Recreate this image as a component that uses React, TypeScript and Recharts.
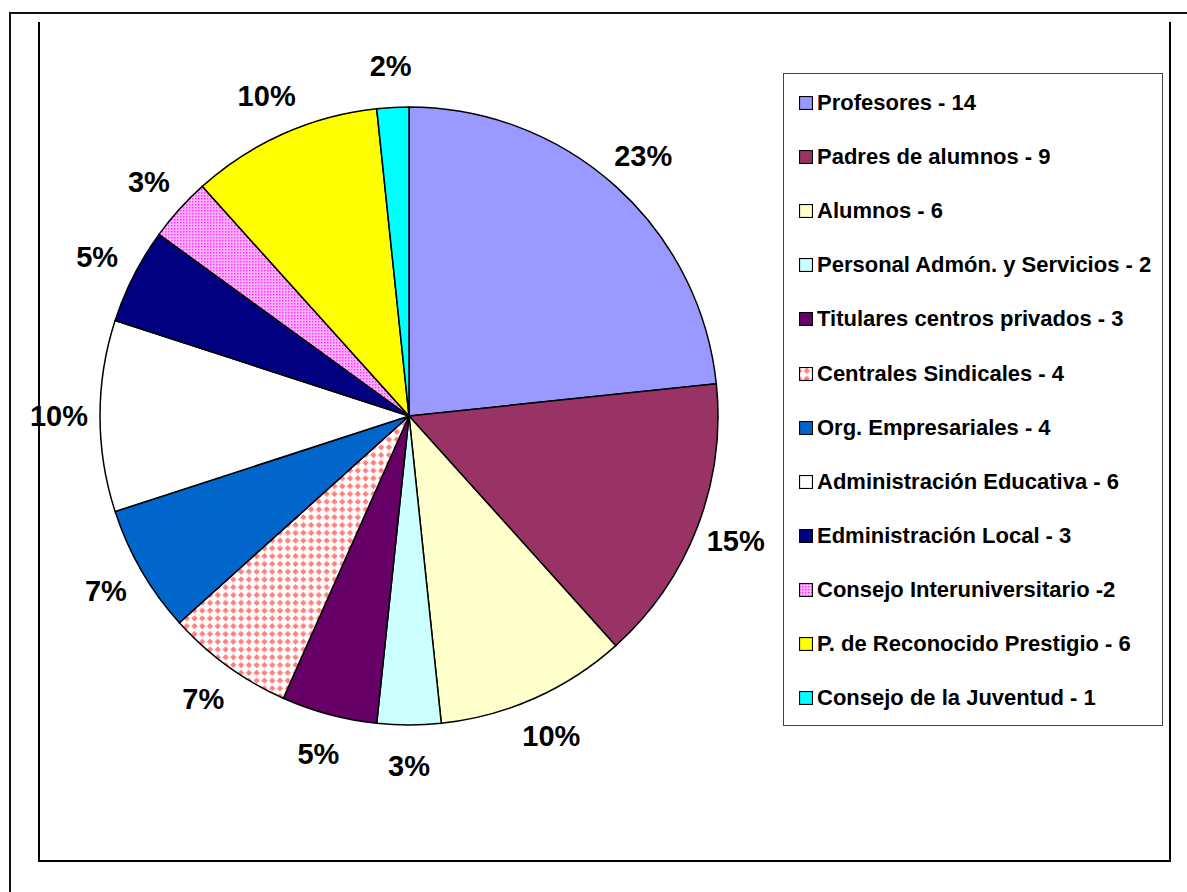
// Composition of the council — pie with outside percentage labels and boxed legend
import { PieChart, Pie, Cell, Legend } from 'recharts'

const categories = [
  'Profesores - 14',
  'Padres de alumnos - 9',
  'Alumnos - 6',
  'Personal Admón. y Servicios - 2',
  'Titulares centros privados - 3',
  'Centrales Sindicales - 4',
  'Org. Empresariales - 4',
  'Administración Educativa - 6',
  'Edministración Local - 3',
  'Consejo Interuniversitario -2',
  'P. de Reconocido Prestigio - 6',
  'Consejo de la Juventud - 1',
]
const members = [14, 9, 6, 2, 3, 4, 4, 6, 3, 2, 6, 1]

const FILLS = [
  '#9999FF',
  '#993366',
  '#FFFFCC',
  '#CCFFFF',
  '#660066',
  'url(#checkPink)',
  '#0066CC',
  '#FFFFFF',
  '#000080',
  'url(#dotMagenta)',
  '#FFFF00',
  '#00FFFF',
]

const data = categories.map((name, i) => ({ name, value: members[i] }))

const FONT = '"Liberation Sans", Arial, sans-serif'
const RAD = Math.PI / 180

const renderLabel = (props: any) => {
  const { cx, cy, midAngle, percent } = props
  const r = 350
  const x = cx + Math.cos(-midAngle * RAD) * r
  const y = cy + Math.sin(-midAngle * RAD) * r
  return (
    <text
      x={x}
      y={y}
      textAnchor="middle"
      dominantBaseline="central"
      fontFamily={FONT}
      fontWeight="bold"
      fontSize={29}
      fill="#000"
    >
      {Math.round(percent * 100)}%
    </text>
  )
}

// Recharts sorts legend items by name; restore the series order
const renderLegend = (props: any) => {
  const items = [...(props.payload || [])].sort(
    (a: any, b: any) => categories.indexOf(a.value) - categories.indexOf(b.value)
  )
  return (
    <div
      style={{
        boxSizing: 'border-box',
        width: 380,
        height: 653,
        border: '1px solid #444',
        paddingTop: 2,
        background: '#fff',
      }}
    >
      {items.map((entry: any) => {
        const i = categories.indexOf(entry.value)
        return (
          <div
            key={entry.value}
            style={{
              height: 54.1,
              display: 'flex',
              alignItems: 'center',
              paddingLeft: 15,
            }}
          >
            <svg width={14} height={14} style={{ marginRight: 4, flex: 'none' }}>
              <rect x={0.5} y={0.5} width={13} height={13} fill={FILLS[i]} stroke="#000" strokeWidth={1.2} />
            </svg>
            <span style={{ fontFamily: FONT, fontWeight: 'bold', fontSize: 22, color: '#000', whiteSpace: 'nowrap' }}>
              {entry.value}
            </span>
          </div>
        )
      })}
    </div>
  )
}

export default function App() {
  return (
    <div
      style={{
        position: 'absolute',
        left: 0,
        top: 0,
        width: 1187,
        height: 892,
        overflow: 'hidden',
        background: '#fff',
      }}
    >
      {/* fill patterns shared by slices and legend keys */}
      <svg width={0} height={0} style={{ position: 'absolute' }}>
        <defs>
          <pattern id="checkPink" width={11} height={11} patternUnits="userSpaceOnUse" patternTransform="rotate(45)">
            <rect width={11} height={11} fill="#fff" />
            <rect x={0.5} y={0.5} width={4.5} height={4.5} fill="#FF8080" />
            <rect x={6} y={6} width={4.5} height={4.5} fill="#FF8080" />
          </pattern>
          <pattern id="dotMagenta" width={3} height={3} patternUnits="userSpaceOnUse">
            <rect width={3} height={3} fill="#FFB3FF" />
            <rect x={0} y={0} width={1.5} height={1.5} fill="#FF33FF" />
          </pattern>
        </defs>
      </svg>

      {/* outer chart frame */}
      <div
        style={{
          position: 'absolute',
          left: 9,
          top: 12,
          width: 1300,
          height: 1000,
          border: '2px solid #111',
        }}
      />
      {/* plot area frame (no top edge) */}
      <div
        style={{
          position: 'absolute',
          boxSizing: 'border-box',
          left: 38,
          top: 22,
          width: 1133,
          height: 840,
          borderLeft: '2px solid #000',
          borderRight: '2px solid #000',
          borderBottom: '2px solid #000',
        }}
      />

      <div style={{ position: 'absolute', left: 0, top: 0 }}>
        <PieChart width={1187} height={892} margin={{ top: 0, right: 0, bottom: 0, left: 0 }}>
          <Pie
            data={data}
            dataKey="value"
            nameKey="name"
            cx={409}
            cy={416}
            outerRadius={309}
            startAngle={90}
            endAngle={-270}
            stroke="#000"
            strokeWidth={1.5}
            label={renderLabel}
            labelLine={false}
            isAnimationActive={false}
          >
            {data.map((_, i) => (
              <Cell key={i} fill={FILLS[i]} />
            ))}
          </Pie>
          <Legend
            layout="vertical"
            align="right"
            verticalAlign="top"
            content={renderLegend}
            wrapperStyle={{ left: 783, top: 73, width: 380, height: 653 }}
          />
        </PieChart>
      </div>
    </div>
  )
}
